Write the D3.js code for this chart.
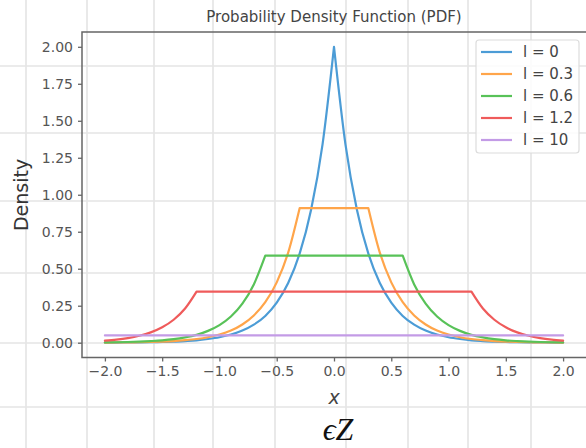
<!DOCTYPE html>
<html>
<head>
<meta charset="utf-8">
<script src="https://cdn.jsdelivr.net/npm/d3@7"></script>
<style>
  html, body { margin: 0; padding: 0; background: #fff; }
  svg { display: block; }
</style>
</head>
<body>
<svg id="chart" width="586" height="448"></svg>
<script>
// ---------------- data ----------------
const xValues = [-2.0,-1.9,-1.8,-1.7,-1.6,-1.5,-1.4,-1.3,-1.2,-1.1,-1.0,-0.9,-0.8,-0.7,-0.6,-0.5,-0.4,-0.3,-0.2,-0.1,
  0.0,0.1,0.2,0.3,0.4,0.5,0.6,0.7,0.8,0.9,1.0,1.1,1.2,1.3,1.4,1.5,1.6,1.7,1.8,1.9,2.0];

const seriesLabels = ["l = 0", "l = 0.3", "l = 0.6", "l = 1.2", "l = 10"];

const density_l0 = [0.0007,0.001,0.0015,0.002,0.003,0.005,0.007,0.011,0.016,0.025,0.037,0.055,0.082,0.122,0.181,0.271,0.404,0.602,0.899,1.341,
  2.000,1.341,0.899,0.602,0.404,0.271,0.181,0.122,0.082,0.055,0.037,0.025,0.016,0.011,0.007,0.005,0.003,0.002,0.0015,0.001,0.0007];

const density_l03 = [0.001,0.0015,0.0023,0.0034,0.005,0.0075,0.011,0.017,0.025,0.037,0.055,0.082,0.123,0.184,0.274,0.408,0.609,0.909,0.909,0.909,
  0.909,0.909,0.909,0.909,0.609,0.408,0.274,0.184,0.123,0.082,0.055,0.037,0.025,0.017,0.011,0.0075,0.005,0.0034,0.0023,0.0015,0.001];

const density_l06 = [0.0022,0.0032,0.0048,0.0072,0.011,0.016,0.024,0.036,0.053,0.080,0.119,0.177,0.264,0.394,0.588,0.588,0.588,0.588,0.588,0.588,
  0.588,0.588,0.588,0.588,0.588,0.588,0.588,0.394,0.264,0.177,0.119,0.080,0.053,0.036,0.024,0.016,0.011,0.0072,0.0048,0.0032,0.0022];

const density_l12 = [0.0141,0.0210,0.0313,0.0467,0.0697,0.104,0.155,0.231,0.345,0.345,0.345,0.345,0.345,0.345,0.345,0.345,0.345,0.345,0.345,0.345,
  0.345,0.345,0.345,0.345,0.345,0.345,0.345,0.345,0.345,0.345,0.345,0.345,0.345,0.231,0.155,0.104,0.0697,0.0467,0.0313,0.0210,0.0141];

const density_l10 = [0.049,0.049,0.049,0.049,0.049,0.049,0.049,0.049,0.049,0.049,0.049,0.049,0.049,0.049,0.049,0.049,0.049,0.049,0.049,0.049,
  0.049,0.049,0.049,0.049,0.049,0.049,0.049,0.049,0.049,0.049,0.049,0.049,0.049,0.049,0.049,0.049,0.049,0.049,0.049,0.049,0.049];

const xTicks = [-2.0,-1.5,-1.0,-0.5,0.0,0.5,1.0,1.5,2.0];
const yTicks = [0.00,0.25,0.50,0.75,1.00,1.25,1.50,1.75,2.00];

const titleText = "Probability Density Function (PDF)";
const xLabelText = "x";
const yLabelText = "Density";
const captionText = "\u03F5Z";

// ---------------- layout / style ----------------
const W = 586, H = 448;
const plot = { left: 82, right: 586, top: 32, bottom: 357.5 };
const colors = ["#4c9cd6", "#ffa54a", "#58c258", "#ef5b5b", "#c39be6"];
const bgGridX = [26, 87, 154, 213, 275, 346, 408, 468, 531];
const bgGridY = [66, 133, 201, 273, 343, 407];

const svg = d3.select("#chart");
svg.append("rect").attr("width", W).attr("height", H).attr("fill", "#fff");

// background page grid
const bg = svg.append("g");
bgGridX.forEach(px => bg.append("line").attr("x1", px).attr("x2", px).attr("y1", 0).attr("y2", H)
  .attr("stroke", "#e4e4e4").attr("stroke-width", 1.6));
bgGridY.forEach(py => bg.append("line").attr("y1", py).attr("y2", py).attr("x1", 0).attr("x2", W)
  .attr("stroke", "#e4e4e4").attr("stroke-width", 1.6));

const x = d3.scaleLinear().domain([-2.2, 2.2]).range([plot.left, plot.right]);
const y = d3.scaleLinear().domain([-0.1, 2.1]).range([plot.bottom, plot.top]);

const minus = s => s.replace("-", "\u2212");

// axes
const xAxis = d3.axisBottom(x).tickValues(xTicks).tickSize(4).tickPadding(5)
  .tickFormat(d => minus(d3.format(".1f")(d)));
const yAxis = d3.axisLeft(y).tickValues(yTicks).tickSize(4).tickPadding(5)
  .tickFormat(d => d3.format(".2f")(d));

const gx = svg.append("g").attr("transform", `translate(0,${plot.bottom})`).call(xAxis);
const gy = svg.append("g").attr("transform", `translate(${plot.left},0)`).call(yAxis);
[gx, gy].forEach(g => {
  g.select(".domain").remove();
  g.selectAll(".tick line").attr("stroke", "#666").attr("stroke-width", 1.3);
  g.selectAll(".tick text").attr("fill", "#555").attr("font-family", "DejaVu Sans")
    .attr("font-size", 14);
});

// curves: monotone pieces joined into one path
function monotonePath(xs, ys) {
  const pts = xs.map((v, i) => [x(v), y(ys[i])]);
  const pieces = [];
  let start = 0;
  const sgn = i => Math.sign(Math.round((ys[i + 1] - ys[i]) * 1e6));
  for (let i = 1; i < pts.length - 1; i++) {
    if (sgn(i) !== sgn(i - 1)) { pieces.push(pts.slice(start, i + 1)); start = i; }
  }
  pieces.push(pts.slice(start));
  const gen = d3.line().curve(d3.curveMonotoneX);
  return pieces.map((p, k) => {
    const s = gen(p);
    return k === 0 ? s : s.replace(/^M/, "L");
  }).join("");
}

const allSeries = [density_l0, density_l03, density_l06, density_l12, density_l10];
const lines = svg.append("g");
allSeries.forEach((ys, i) => {
  lines.append("path").attr("d", monotonePath(xValues, ys))
    .attr("fill", "none").attr("stroke", colors[i]).attr("stroke-width", 2.2)
    .attr("stroke-linejoin", "round").attr("stroke-linecap", "round");
});

// spines (left, top, bottom)
const spine = svg.append("g").attr("stroke", "#666").attr("stroke-width", 1.5).attr("fill", "none");
spine.append("path").attr("d", `M${plot.right},${plot.top}H${plot.left}V${plot.bottom}H${plot.right}`);

// title and labels
svg.append("text").attr("x", 334).attr("y", 22).attr("text-anchor", "middle")
  .attr("font-family", "DejaVu Sans").attr("font-size", 15).attr("fill", "#444").text(titleText);

svg.append("text").attr("transform", "translate(28,195) rotate(-90)").attr("text-anchor", "middle")
  .attr("font-family", "DejaVu Sans").attr("font-size", 19).attr("fill", "#333").text(yLabelText);

svg.append("text").attr("x", 334).attr("y", 404).attr("text-anchor", "middle")
  .attr("font-family", "DejaVu Sans").attr("font-style", "italic").attr("font-size", 19)
  .attr("fill", "#444").text(xLabelText);

svg.append("text").attr("x", 338).attr("y", 440).attr("text-anchor", "middle")
  .attr("font-family", "Liberation Serif, DejaVu Serif").attr("font-style", "italic").attr("font-size", 32)
  .attr("fill", "#111").text(captionText);

// legend
const leg = svg.append("g");
leg.append("rect").attr("x", 476).attr("y", 40).attr("width", 103).attr("height", 113)
  .attr("rx", 3).attr("fill", "#fff").attr("fill-opacity", 0.85)
  .attr("stroke", "#dcdcdc").attr("stroke-width", 1.2);
seriesLabels.forEach((lab, i) => {
  const ly = 52 + i * 22;
  leg.append("line").attr("x1", 481).attr("x2", 512).attr("y1", ly).attr("y2", ly)
    .attr("stroke", colors[i]).attr("stroke-width", 2.2);
  leg.append("text").attr("x", 523).attr("y", ly).attr("dy", "0.36em")
    .attr("font-family", "DejaVu Sans").attr("font-size", 15).attr("fill", "#444").text(lab);
});
</script>
</body>
</html>
